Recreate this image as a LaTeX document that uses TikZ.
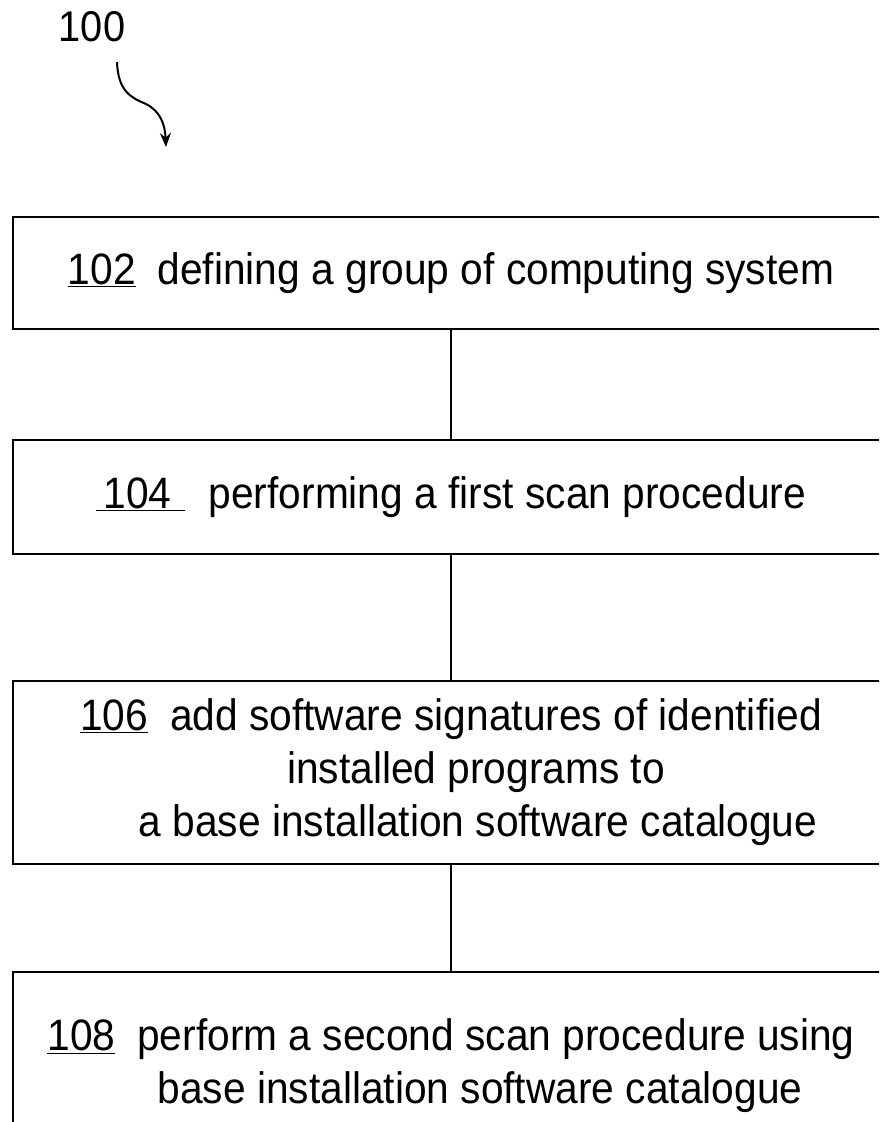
\documentclass[tikz,border=0pt]{standalone}
\usepackage{fontspec}
\setmainfont[FakeStretch=0.925]{Liberation Sans}
\usetikzlibrary{positioning,arrows.meta}

\tikzset{stepbox/.style={draw, line width=2pt, minimum width=876pt, inner sep=0pt, align=center, font=\fontsize{44}{53}\selectfont}}

\begin{document}
\begin{tikzpicture}[x=1pt,y=-1pt]
    \useasboundingbox (0,0) rectangle (879,1122);
    \clip (0,0) rectangle (879,1122);

    % figure number and squiggle
    \node [font=\fontsize{43}{50}\selectfont] (fig) at (92,27) {100};
    \coordinate (sqstart) at (117,62);
    \coordinate (sqend) at (166,147);
    \draw [line width=2pt, -{Stealth[length=14pt,width=11pt]}] (sqstart) .. controls (118,92) and (132,98) .. (146,104) .. controls (160,111) and (165,124) .. (sqend);

    % steps
    \node [stepbox, minimum height=112pt] (s102) at (451,273) {\underline{102}\hspace{0.5em}defining a group of computing system};
    \node [stepbox, minimum height=114pt] (s104) at (451,497) {\underline{\,104\hspace{0.3em}}\hspace{0.55em}performing a first scan procedure};
    \node [stepbox, minimum height=183pt] (s106) at (451,772) {\underline{106}\hspace{0.5em}add software signatures of identified\\\hspace*{50pt}installed programs to\\\hspace*{54pt}a base installation software catalogue};
    \node [stepbox, minimum height=188pt] (s108) at (451,1066) {\underline{108}\hspace{0.5em}perform a second scan procedure using\\\hspace*{58pt}base installation software catalogue};

    % connectors
    \draw [line width=2pt] (s102) -- (s104);
    \draw [line width=2pt] (s104) -- (s106);
    \draw [line width=2pt] (s106) -- (s108);
\end{tikzpicture}
\end{document}
